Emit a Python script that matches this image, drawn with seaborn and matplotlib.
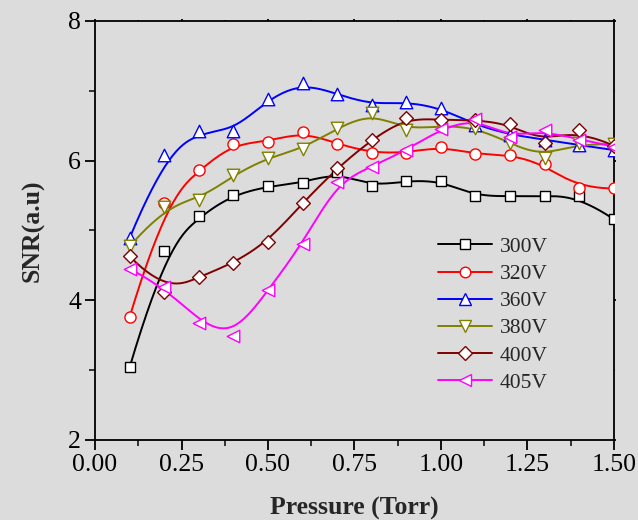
import numpy as np
import pandas as pd
import matplotlib
matplotlib.use("Agg")
import matplotlib.pyplot as plt
from matplotlib.lines import Line2D
from matplotlib.ticker import MultipleLocator, FormatStrFormatter
import seaborn as sns

# Measured SNR versus chamber pressure for each discharge voltage
pressure = [0.1, 0.2, 0.3, 0.4, 0.5, 0.6, 0.7, 0.8, 0.9, 1.0, 1.1, 1.2, 1.3, 1.4, 1.5]
snr_300 = [3.04, 4.71, 5.20, 5.51, 5.63, 5.68, 5.83, 5.63, 5.71, 5.71, 5.49, 5.49, 5.49, 5.49, 5.16]
snr_320 = [3.76, 5.39, 5.86, 6.24, 6.27, 6.41, 6.24, 6.11, 6.11, 6.20, 6.09, 6.08, 5.95, 5.60, 5.60]
snr_360 = [4.89, 6.08, 6.42, 6.42, 6.88, 7.11, 6.95, 6.80, 6.84, 6.75, 6.51, 6.37, 6.30, 6.22, 6.15]
snr_380 = [4.77, 5.34, 5.43, 5.79, 6.04, 6.17, 6.46, 6.68, 6.44, 6.50, 6.47, 6.25, 6.04, 6.25, 6.23]
snr_400 = [4.63, 4.12, 4.33, 4.53, 4.84, 5.39, 5.89, 6.30, 6.61, 6.58, 6.58, 6.52, 6.25, 6.44, 6.21]
snr_405 = [4.45, 4.19, 3.68, 3.49, 4.14, 4.81, 5.69, 5.91, 6.15, 6.45, 6.60, 6.33, 6.44, 6.30, 6.20]

labels = ["300V", "320V", "360V", "380V", "400V", "405V"]
series = [snr_300, snr_320, snr_360, snr_380, snr_400, snr_405]
colors = ["#000000", "#ff0000", "#0000ff", "#808000", "#800000", "#ff00ff"]
markers = ["s", "o", "^", "v", "D", "<"]
msizes = [7.0, 8.0, 9.0, 9.0, 7.0, 9.0]


def bspline(xc, yc, degree=3, num=400):
    """Clamped uniform B-spline through the given control points."""
    xc = np.asarray(xc, float)
    yc = np.asarray(yc, float)
    n = len(xc)
    inner = np.linspace(0, 1, n - degree + 1)
    knots = np.concatenate([np.zeros(degree), inner, np.ones(degree)])
    t = np.linspace(0, 1, num)
    t[-1] = 1 - 1e-12
    # Cox-de Boor recursion
    N = np.zeros((num, len(knots) - 1))
    for i in range(len(knots) - 1):
        N[:, i] = (t >= knots[i]) & (t < knots[i + 1])
    for k in range(1, degree + 1):
        Nn = np.zeros((num, len(knots) - 1 - k))
        for i in range(len(knots) - 1 - k):
            a = np.zeros(num)
            b = np.zeros(num)
            d1 = knots[i + k] - knots[i]
            d2 = knots[i + k + 1] - knots[i + 1]
            if d1 > 0:
                a = (t - knots[i]) / d1 * N[:, i]
            if d2 > 0:
                b = (knots[i + k + 1] - t) / d2 * N[:, i + 1]
            Nn[:, i] = a + b
        N = Nn
    return N @ xc, N @ yc


bg = "#dcdcdc"
sns.set_theme(style="ticks")
plt.rcParams["font.family"] = ["Liberation Serif", "DejaVu Serif"]
plt.rcParams["axes.linewidth"] = 1.3

fig = plt.figure(figsize=(6.38, 5.2), dpi=100, facecolor=bg)
ax = fig.add_axes([0.149, 0.154, 0.813, 0.806], facecolor=bg)

handles = []
for lab, ys, col, mk, ms in zip(labels, series, colors, markers, msizes):
    cx, cy = bspline(pressure, ys)
    curve = pd.DataFrame({"x": cx, "y": cy})
    sns.lineplot(data=curve, x="x", y="y", ax=ax, color=col, lw=1.4,
                 sort=False, estimator=None, zorder=2)
    pts = pd.DataFrame({"x": pressure, "y": ys})
    sns.scatterplot(data=pts, x="x", y="y", ax=ax, marker=mk, s=ms ** 2,
                    facecolor="white", edgecolor=col, linewidth=1.0, zorder=3)
    handles.append(Line2D([], [], color=col, lw=1.4, marker=mk, markersize=ms * 0.95,
                          markerfacecolor="white", markeredgecolor=col,
                          markeredgewidth=1.0))

ax.set_xlim(0, 1.5)
ax.set_ylim(2, 8)
ax.xaxis.set_major_locator(MultipleLocator(0.25))
ax.xaxis.set_minor_locator(MultipleLocator(0.125))
ax.yaxis.set_major_locator(MultipleLocator(2))
ax.yaxis.set_minor_locator(MultipleLocator(1))
ax.xaxis.set_major_formatter(FormatStrFormatter("%.2f"))
ax.tick_params(axis="both", which="major", direction="out", length=7, width=1.3,
               labelsize=18.5, colors="black", pad=3)
ax.tick_params(axis="both", which="minor", direction="out", length=4, width=1.3)
ax.tick_params(which="both", top=True, right=True)
for t in ax.xaxis.get_ticklines(minor=False)[1::2] + ax.yaxis.get_ticklines(minor=False)[1::2]:
    t.set_markersize(1.5)
for t in ax.xaxis.get_ticklines(minor=True)[1::2] + ax.yaxis.get_ticklines(minor=True)[1::2]:
    t.set_markersize(1.0)
for s in ax.spines.values():
    s.set_visible(True)
    s.set_color("black")

ax.set_xlabel("Pressure (Torr)", fontsize=18.5, fontweight="bold", labelpad=15)
ax.set_ylabel("SNR(a.u)", fontsize=18.5, fontweight="bold", labelpad=17)

ax.legend(handles, labels, loc="upper left", bbox_to_anchor=(0.645, 0.505),
          frameon=False, fontsize=15.5, handlelength=2.5, handletextpad=0.35,
          labelspacing=0.33, numpoints=1, borderaxespad=0)

fig.savefig("out.png", dpi=100, facecolor=bg)
